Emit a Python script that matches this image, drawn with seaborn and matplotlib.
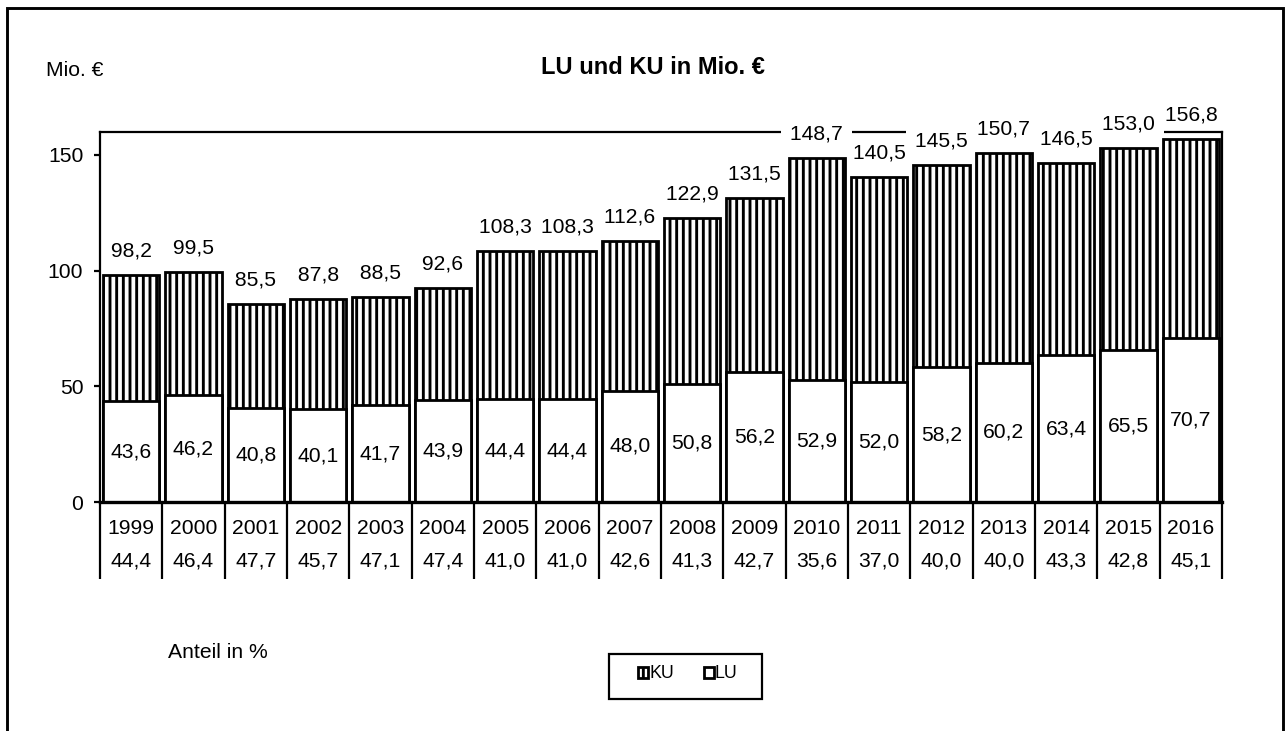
import matplotlib
matplotlib.use("Agg")
import matplotlib.pyplot as plt
import seaborn as sns
import pandas as pd
from matplotlib.patches import Rectangle

# ---------------- data ----------------
years = ["1999", "2000", "2001", "2002", "2003", "2004", "2005", "2006", "2007",
         "2008", "2009", "2010", "2011", "2012", "2013", "2014", "2015", "2016"]
total = [98.2, 99.5, 85.5, 87.8, 88.5, 92.6, 108.3, 108.3, 112.6,
         122.9, 131.5, 148.7, 140.5, 145.5, 150.7, 146.5, 153.0, 156.8]
lu = [43.6, 46.2, 40.8, 40.1, 41.7, 43.9, 44.4, 44.4, 48.0,
      50.8, 56.2, 52.9, 52.0, 58.2, 60.2, 63.4, 65.5, 70.7]
anteil = [44.4, 46.4, 47.7, 45.7, 47.1, 47.4, 41.0, 41.0, 42.6,
          41.3, 42.7, 35.6, 37.0, 40.0, 40.0, 43.3, 42.8, 45.1]
yticks = [0, 50, 100, 150]
series_labels = ["KU", "LU"]


def de(v):
    return f"{v:.1f}".replace(".", ",")


# ---------------- style ----------------
sns.set_theme(style="white")
plt.rcParams["font.family"] = ["Liberation Sans", "DejaVu Sans"]
for k in ["text.color", "axes.labelcolor", "xtick.color", "ytick.color", "axes.edgecolor"]:
    plt.rcParams[k] = "black"
plt.rcParams["hatch.linewidth"] = 2.6
plt.rcParams["hatch.color"] = "black"

W, H, DPI = 1286, 731, 80
FS = 19
fig = plt.figure(figsize=(W / DPI, H / DPI), dpi=DPI)
ax = fig.add_axes([100 / W, 1 - 502 / H, 1122 / W, (502 - 131.7) / H])

df = pd.DataFrame({"Jahr": years, "Gesamt": total, "LU": lu})

sns.barplot(data=df, x="Jahr", y="Gesamt", color="white", saturation=1,
            edgecolor="black", linewidth=2.5, hatch="||", width=0.9,
            errorbar=None, ax=ax, zorder=2)
sns.barplot(data=df, x="Jahr", y="LU", color="white", saturation=1,
            edgecolor="black", linewidth=2.5, width=0.9,
            errorbar=None, ax=ax, zorder=2)

c_tot, c_lu = ax.containers[0], ax.containers[1]

# total labels: white boxes hide the top frame line, but sit below the bars
ax.bar_label(c_tot, labels=[" " + de(v) + " " for v in total], padding=13,
             fontsize=FS, zorder=1.5,
             bbox=dict(facecolor="white", edgecolor="none", boxstyle="square,pad=0.15"))
ax.bar_label(c_lu, labels=[de(v) for v in lu], label_type="center", fontsize=FS, zorder=4)

ax.set_xlabel("")
ax.set_ylabel("")
ax.set_ylim(0, 160)
ax.set_xlim(-0.5, len(years) - 0.5)

for s in ["left", "top", "right"]:
    ax.spines[s].set_visible(True)
    ax.spines[s].set_linewidth(2)
    ax.spines[s].set_color("black")
ax.spines["top"].set_zorder(1)
ax.spines["bottom"].set_linewidth(3)
ax.spines["bottom"].set_color("black")

ax.set_yticks(yticks)
ax.set_yticklabels([str(t) for t in yticks])
ax.tick_params(axis="y", left=True, direction="out", length=5, width=2,
               labelsize=FS, pad=10)

# x "table": boundary ticks + two-row labels
ax.set_xticks([i - 0.5 for i in range(len(years) + 1)])
ax.set_xticklabels([""] * (len(years) + 1))
ax.set_xticks(list(range(len(years))), minor=True)
ax.set_xticklabels([f"{y}\n{de(a)}" for y, a in zip(years, anteil)], minor=True)
ax.tick_params(axis="x", which="major", bottom=True, direction="out",
               length=69, width=2, color="black")
ax.tick_params(axis="x", which="minor", bottom=True, length=0, pad=15.5, labelsize=FS)
for lbl in ax.get_xticklabels(minor=True):
    lbl.set_linespacing(1.9)

# texts
fig.text(653 / W, 1 - 68 / H, "LU und KU in Mio. €", ha="center", va="center",
         fontsize=21.3, fontweight="bold")
fig.text(46 / W, 1 - 70 / H, "Mio. €", ha="left", va="center", fontsize=FS)
fig.text(168 / W, 1 - 652 / H, "Anteil in %", ha="left", va="center", fontsize=FS)

# legend
leg = fig.legend(handles=[c_tot, c_lu], labels=series_labels, loc="center",
                 bbox_to_anchor=(688 / W, 1 - 674 / H), ncol=2, frameon=False,
                 fontsize=16, handlelength=0.55, handleheight=0.55,
                 handletextpad=0.05, columnspacing=1.7)
fig.add_artist(Rectangle((609 / W, 1 - 699 / H), (762 - 609) / W, (699 - 654) / H,
                         transform=fig.transFigure, fill=False, edgecolor="black",
                         linewidth=2))

# outer border
fig.add_artist(Rectangle((7 / W, -0.05), (1283 - 7) / W, 1.05 - 8 / H,
                         transform=fig.transFigure, fill=False, edgecolor="black",
                         linewidth=2.6))

fig.savefig("out.png", dpi=DPI)
